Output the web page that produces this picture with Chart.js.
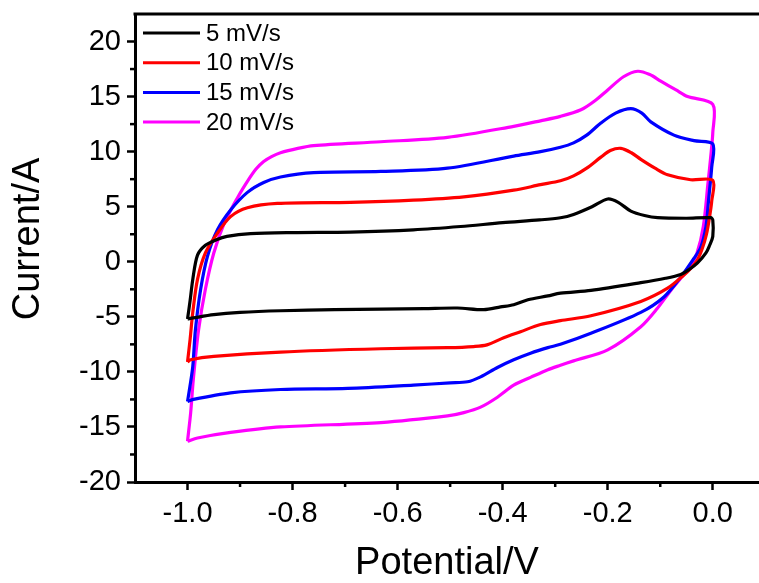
<!DOCTYPE html>
<html>
<head>
<meta charset="utf-8">
<script src="https://cdn.jsdelivr.net/npm/chart.js@4.4.0/dist/chart.umd.min.js"></script>
<style>
  html, body { margin: 0; padding: 0; background: #fff; overflow: hidden; }
  #wrap { width: 759px; height: 583px; }
</style>
</head>
<body>
<div id="wrap"><canvas id="cv"></canvas></div>
<script>
var seriesNames = ['5 mV/s', '10 mV/s', '15 mV/s', '20 mV/s'];
var seriesColors = ['#000000', '#ff0000', '#0000ff', '#ff00ff'];
var xTicks = [-1.0, -0.8, -0.6, -0.4, -0.2, 0.0];
var xMinor = [-0.9, -0.7, -0.5, -0.3, -0.1];
var yTicks = [-20, -15, -10, -5, 0, 5, 10, 15, 20];
var yMinor = [-17.5, -12.5, -7.5, -2.5, 2.5, 7.5, 12.5, 17.5];

// 5 mV/s : forward sweep then reverse sweep
var x5 = [-1.0, -0.995, -0.99, -0.981, -0.966, -0.945, -0.925, -0.88, -0.8, -0.69, -0.57, -0.48, -0.4, -0.33, -0.29, -0.265, -0.23, -0.2, -0.18, -0.156, -0.13, -0.105, -0.05, -0.004, 0.0,
          0.0, -0.006, -0.013, -0.029, -0.045, -0.061, -0.09, -0.137, -0.232, -0.29, -0.314, -0.352, -0.379, -0.404, -0.436, -0.486, -0.55, -0.632, -0.72, -0.823, -0.9, -0.95, -0.989, -1.0];
var y5 = [-5.2, -3.5, -1.6, 0.6, 1.5, 2.0, 2.3, 2.55, 2.65, 2.7, 2.9, 3.2, 3.55, 3.8, 4.0, 4.3, 5.0, 5.7, 5.4, 4.6, 4.2, 4.0, 3.95, 4.0, 3.8,
          2.3, 1.5, 0.8, -0.1, -0.7, -1.15, -1.5, -1.9, -2.6, -2.85, -3.1, -3.45, -3.9, -4.1, -4.35, -4.2, -4.25, -4.3, -4.35, -4.45, -4.6, -4.8, -5.1, -5.2];

// 10 mV/s
var x10 = [-1.0, -0.995, -0.99, -0.981, -0.966, -0.943, -0.918, -0.886, -0.829, -0.69, -0.57, -0.474, -0.379, -0.328, -0.29, -0.265, -0.24, -0.213, -0.195, -0.175, -0.155, -0.137, -0.11, -0.086, -0.042, 0.0,
           -0.002, -0.006, -0.012, -0.02, -0.029, -0.042, -0.055, -0.086, -0.137, -0.232, -0.29, -0.328, -0.366, -0.398, -0.43, -0.455, -0.505, -0.632, -0.823, -0.95, -0.994, -1.0];
var y10 = [-9.1, -7.0, -4.6, -1.6, 0.8, 2.6, 4.1, 4.9, 5.3, 5.4, 5.6, 5.9, 6.5, 7.0, 7.35, 7.8, 8.5, 9.5, 10.1, 10.3, 9.9, 9.3, 8.5, 7.9, 7.45, 7.4,
           5.5, 4.1, 2.5, 1.2, 0.2, -0.6, -1.2, -2.4, -3.6, -4.9, -5.35, -5.7, -6.35, -6.9, -7.55, -7.7, -7.8, -7.9, -8.2, -8.6, -8.9, -9.1];

// 15 mV/s
var x15 = [-1.0, -0.995, -0.99, -0.985, -0.975, -0.962, -0.943, -0.918, -0.886, -0.855, -0.823, -0.76, -0.632, -0.505, -0.379, -0.328, -0.29, -0.265, -0.24, -0.213, -0.185, -0.156, -0.135, -0.118, -0.074, -0.036, 0.0,
           -0.002, -0.008, -0.013, -0.023, -0.036, -0.061, -0.093, -0.137, -0.232, -0.29, -0.314, -0.347, -0.379, -0.41, -0.442, -0.467, -0.5, -0.57, -0.695, -0.823, -0.918, -0.989, -1.0];
var y15 = [-12.7, -11.2, -9.5, -6.2, -2.5, 0.5, 2.9, 4.7, 6.3, 7.2, 7.7, 8.1, 8.2, 8.5, 9.6, 10.0, 10.4, 10.8, 11.5, 12.6, 13.5, 13.9, 13.5, 12.7, 11.5, 11.0, 10.7,
           8.6, 5.6, 3.2, 1.3, 0.3, -1.4, -3.2, -4.6, -6.5, -7.5, -7.8, -8.3, -8.9, -9.6, -10.45, -10.9, -11.0, -11.2, -11.5, -11.6, -11.9, -12.5, -12.7];

// 20 mV/s
var x20 = [-1.0, -0.994, -0.989, -0.979, -0.966, -0.95, -0.931, -0.905, -0.886, -0.87, -0.855, -0.84, -0.823, -0.79, -0.76, -0.632, -0.505, -0.379, -0.328, -0.29, -0.251, -0.225, -0.2, -0.17, -0.143, -0.12, -0.099, -0.07, -0.048, 0.0,
           0.0, -0.004, -0.009, -0.018, -0.03, -0.045, -0.061, -0.08, -0.105, -0.137, -0.2, -0.265, -0.29, -0.314, -0.347, -0.379, -0.41, -0.442, -0.474, -0.505, -0.632, -0.823, -0.918, -0.981, -1.0];
var y20 = [-16.3, -13.7, -10.7, -6.2, -2.5, 0.8, 3.4, 5.8, 7.3, 8.4, 9.1, 9.55, 9.9, 10.3, 10.55, 10.9, 11.3, 12.3, 12.8, 13.2, 13.8, 14.6, 15.6, 16.8, 17.3, 17.0, 16.4, 15.6, 15.0, 14.3,
           11.7, 9.5, 7.2, 3.2, 0.8, -0.6, -1.5, -2.6, -4.2, -5.9, -8.0, -9.0, -9.4, -9.8, -10.5, -11.2, -12.3, -13.2, -13.7, -14.0, -14.6, -15.0, -15.5, -16.0, -16.3];

var allX = [x5, x10, x15, x20];
var allY = [y5, y10, y15, y20];

var FONT = "'Liberation Sans', Arial, sans-serif";

function pts(xs, ys) {
  return xs.map(function(v, i) { return {x: v, y: ys[i]}; });
}

var datasets = seriesNames.map(function(name, i) {
  return {
    label: name,
    data: pts(allX[i], allY[i]),
    borderColor: seriesColors[i],
    backgroundColor: seriesColors[i],
    borderWidth: 3.2,
    pointRadius: 0,
    showLine: true,
    tension: 0.3,
    fill: false
  };
});

// minor ticks, top frame line, y title and the legend
var extras = {
  id: 'extras',
  afterDraw: function(chart) {
    var ctx = chart.ctx;
    var area = chart.chartArea;
    var xs = chart.scales.x, ys = chart.scales.y;
    ctx.save();
    ctx.strokeStyle = '#000';
    ctx.lineWidth = 3;
    ctx.beginPath();
    ctx.moveTo(area.left - 1.5, area.top);
    ctx.lineTo(area.right, area.top);
    ctx.stroke();

    ctx.lineWidth = 2.5;
    xMinor.forEach(function(v) {
      var p = xs.getPixelForValue(v);
      ctx.beginPath();
      ctx.moveTo(p, area.bottom);
      ctx.lineTo(p, area.bottom + 5);
      ctx.stroke();
    });
    yMinor.forEach(function(v) {
      var p = ys.getPixelForValue(v);
      ctx.beginPath();
      ctx.moveTo(area.left, p);
      ctx.lineTo(area.left - 5, p);
      ctx.stroke();
    });

    // y axis title
    ctx.save();
    ctx.translate(29, 239);
    ctx.rotate(-Math.PI / 2);
    ctx.font = '38px ' + FONT;
    ctx.fillStyle = '#000';
    ctx.textAlign = 'center';
    ctx.textBaseline = 'middle';
    ctx.fillText('Current/A', 0, 0);
    ctx.restore();

    // legend
    ctx.font = '24px ' + FONT;
    ctx.textBaseline = 'middle';
    ctx.textAlign = 'left';
    seriesNames.forEach(function(name, i) {
      var y = area.top + 19 + i * 29.7;
      ctx.strokeStyle = seriesColors[i];
      ctx.lineWidth = 3;
      ctx.beginPath();
      ctx.moveTo(area.left + 8, y);
      ctx.lineTo(area.left + 65, y);
      ctx.stroke();
      ctx.fillStyle = '#000';
      ctx.fillText(name, area.left + 71, y + 1);
    });
    ctx.restore();
  }
};

var config = {
  type: 'scatter',
  data: { datasets: datasets },
  plugins: [extras],
  options: {
    responsive: true,
    maintainAspectRatio: false,
    animation: false,
    layout: { padding: { top: 14, right: 0, left: 0, bottom: 0 } },
    plugins: {
      legend: { display: false },
      tooltip: { enabled: false }
    },
    scales: {
      x: {
        type: 'linear',
        min: -1.1,
        max: 0.088,
        afterBuildTicks: function(scale) {
          scale.ticks = xTicks.map(function(v) { return {value: v}; });
        },
        afterFit: function(scale) {
          scale.height = 101;
          scale.paddingLeft = 0;
          scale.paddingRight = 0;
        },
        ticks: {
          color: '#000',
          padding: 7,
          maxRotation: 0,
          font: { family: FONT, size: 29 },
          callback: function(v) { return v.toFixed(1); }
        },
        grid: { drawOnChartArea: false, tickLength: 8, tickWidth: 2.5, tickColor: '#000' },
        border: { color: '#000', width: 3 },
        title: {
          display: true,
          text: 'Potential/V',
          color: '#000',
          padding: 0,
          font: { family: FONT, size: 38, lineHeight: 1.0 }
        }
      },
      y: {
        type: 'linear',
        min: -20,
        max: 22.5,
        afterBuildTicks: function(scale) {
          scale.ticks = yTicks.map(function(v) { return {value: v}; });
        },
        afterFit: function(scale) {
          scale.width = 135;
          scale.paddingTop = 0;
          scale.paddingBottom = 0;
        },
        ticks: {
          color: '#000',
          padding: 6,
          font: { family: FONT, size: 29 },
          callback: function(v) { return String(v); }
        },
        grid: { drawOnChartArea: false, tickLength: 8, tickWidth: 2.5, tickColor: '#000' },
        border: { color: '#000', width: 3 }
      }
    }
  }
};

window.onload = function() {
  var ctx = document.getElementById('cv').getContext('2d');
  window.cvChart = new Chart(ctx, config);
};
</script>
</body>
</html>
